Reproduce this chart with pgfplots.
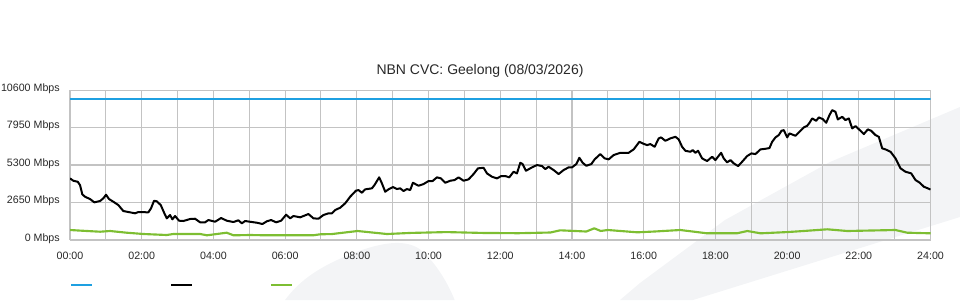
\documentclass[border=0pt]{standalone}
\usepackage{pgfplots}
\pgfplotsset{compat=1.18}
\usepackage{pgfplotstable}
\usepackage{fontspec}
\setmainfont{Liberation Sans}
\definecolor{gridc}{RGB}{195,195,195}
\definecolor{bluec}{RGB}{30,160,225}
\definecolor{greenc}{RGB}{125,190,50}
\definecolor{txt}{RGB}{40,40,40}
\definecolor{swoosh}{RGB}{243,244,246}

\pgfplotstableread{
h v
0.000 4360
0.092 4191
0.215 4120
0.279 3887
0.343 3230
0.419 3060
0.558 2897
0.678 2664
0.837 2756
0.929 2947
1.005 3201
1.088 2897
1.208 2707
1.348 2473
1.487 2049
1.674 1957
1.814 1887
1.906 1979
2.185 1957
2.260 2240
2.344 2777
2.420 2735
2.531 2473
2.632 1887
2.699 1533
2.791 1767
2.855 1463
2.930 1696
3.042 1364
3.162 1343
3.349 1484
3.488 1505
3.628 1251
3.767 1251
3.860 1413
4.047 1293
4.214 1555
4.373 1364
4.557 1272
4.697 1392
4.792 1180
4.884 1343
5.071 1272
5.210 1223
5.367 1131
5.489 1321
5.609 1413
5.749 1251
5.888 1364
6.028 1788
6.140 1533
6.232 1696
6.419 1604
6.650 1837
6.790 1533
6.929 1505
7.069 1767
7.208 1887
7.303 1887
7.395 2120
7.535 2283
7.674 2593
7.814 3060
7.973 3484
8.046 3533
8.140 3343
8.233 3583
8.420 3653
8.492 3887
8.623 4431
8.699 4007
8.791 3413
8.883 3583
9.006 3745
9.117 3604
9.209 3653
9.302 3463
9.396 3604
9.488 3533
9.564 4049
9.720 3837
9.860 3957
9.999 4169
10.111 4169
10.234 4431
10.345 4360
10.465 4049
10.605 4191
10.725 4240
10.837 4431
10.976 4191
11.116 4289
11.255 4664
11.378 5067
11.534 5109
11.629 4713
11.768 4473
11.908 4360
12.028 4523
12.140 4523
12.251 4431
12.371 4827
12.466 4713
12.558 5463
12.623 5371
12.717 4897
12.885 5137
13.024 5300
13.164 5229
13.256 5017
13.348 5180
13.488 4947
13.627 4664
13.767 4947
13.906 5137
14.001 5137
14.121 5371
14.205 5816
14.297 5463
14.400 5251
14.540 5371
14.632 5703
14.791 6077
14.911 5773
15.023 5703
15.162 6007
15.349 6169
15.581 6169
15.720 6409
15.879 6947
15.971 6833
16.094 6713
16.186 6784
16.306 6593
16.418 7187
16.485 7257
16.605 7017
16.744 7187
16.884 7300
16.976 7116
17.071 6593
17.163 6311
17.302 6240
17.367 6360
17.442 6169
17.517 6311
17.629 5773
17.768 5583
17.908 5887
18.000 5653
18.159 6169
18.232 5773
18.327 5491
18.419 5653
18.511 5420
18.634 5229
18.745 5533
18.885 5936
19.005 6127
19.117 6077
19.256 6409
19.396 6452
19.507 6501
19.583 6947
19.675 7257
19.767 7420
19.843 7724
19.907 7773
20.002 7257
20.066 7540
20.233 7371
20.345 7653
20.465 7964
20.560 8077
20.632 8317
20.699 8600
20.811 8431
20.883 8671
20.995 8551
21.090 8289
21.182 8833
21.258 9187
21.349 9067
21.414 8529
21.536 8713
21.628 8480
21.721 8600
21.815 7893
21.907 8056
22.047 7724
22.139 7491
22.251 7823
22.345 7724
22.465 7420
22.557 7300
22.652 6480
22.744 6409
22.884 6240
23.023 5773
23.163 5067
23.302 4827
23.461 4713
23.581 4240
23.701 4049
23.813 3767
23.924 3653
24.000 3569
}\blackdata

\pgfplotstableread{
h v
0.00 707
0.33 657
0.84 586
1.12 636
1.58 516
2.05 424
2.70 353
2.88 424
3.63 424
3.82 332
4.37 516
4.56 332
5.02 353
5.49 332
6.78 332
6.98 404
7.30 420
8.02 636
8.84 424
9.50 500
10.50 560
11.50 500
12.50 480
13.40 530
13.67 685
14.40 600
14.62 827
14.80 640
15.00 707
15.82 544
16.30 600
17.02 707
17.77 473
18.60 473
18.89 636
19.26 473
20.00 560
20.46 636
21.12 756
21.68 636
22.60 685
23.02 707
23.35 516
24.00 473
}\greendata

\pgfplotstableread{
h v
0 10000
24 10000
}\bluedata

\begin{document}
\begin{tikzpicture}
\path[use as bounding box] (0,0) rectangle (720pt,225pt);
\fill[swoosh] (465pt,0pt) -- (480pt,12.75pt) -- (543.75pt,60pt) -- (622.5pt,103.5pt) -- (720pt,144.75pt) -- (720pt,62.25pt) -- (519.75pt,0pt) -- cycle;
\fill[swoosh] (213.75pt,0pt) .. controls (225pt,15pt) and (240pt,26pt) .. (270pt,37pt) .. controls (290pt,44pt) and (305pt,45pt) .. (315pt,38pt) .. controls (325pt,30pt) and (335pt,15pt) .. (341pt,0pt) -- cycle;
\begin{axis}[
  at={(52.5pt,45pt)}, anchor=south west,
  scale only axis, width=645.4pt, height=112.4pt,
  xmin=0, xmax=24, ymin=0, ymax=10600,
  scaled y ticks=false, scaled x ticks=false,
  axis line style={gridc, line width=0.75pt},
  tick style={draw=none},
  xtick={0,2,...,24},
  xticklabels={00:00,02:00,04:00,06:00,08:00,10:00,12:00,14:00,16:00,18:00,20:00,22:00,24:00},
  minor xtick={1,3,...,23},
  ytick={0,2650,5300,7950,10600},
  yticklabels={0 Mbps,2650 Mbps,5300 Mbps,7950 Mbps,10600 Mbps},
  xmajorgrids, ymajorgrids, xminorgrids,
  major grid style={gridc, line width=0.9pt},
  minor grid style={gridc, line width=0.75pt},
  ticklabel style={font=\fontsize{8}{9.6}\selectfont, text=txt},
  yticklabel style={inner sep=0pt, xshift=-7.5pt, yshift=1.2pt},
  xticklabel style={inner sep=0pt, yshift=-9pt},
  legend columns=3,
  legend style={at={(0,-0.3)}, anchor=west, draw=none, fill=none, inner sep=0pt, outer sep=0pt,
    nodes={inner sep=0pt, outer sep=0pt},
    /tikz/every even column/.style={column sep=56.6pt}},
  legend image code/.code={\draw[#1, line width=1.6pt] (0pt,0pt) -- (15.75pt,0pt);},
]
\addplot[bluec, line width=1.6pt] table[x=h,y=v] {\bluedata};
\addlegendentry{\mbox{}}
\addplot[black, line width=1.5pt, line join=round] table[x=h,y=v] {\blackdata};
\addlegendentry{\mbox{}}
\addplot[greenc, line width=1.6pt, line join=round] table[x=h,y=v] {\greendata};
\addlegendentry{\mbox{}}
\end{axis}
\node[text=txt, font=\fontsize{10.5}{12.6}\selectfont] at (360pt,171.75pt) {NBN CVC: Geelong (08/03/2026)};
\end{tikzpicture}
\end{document}
